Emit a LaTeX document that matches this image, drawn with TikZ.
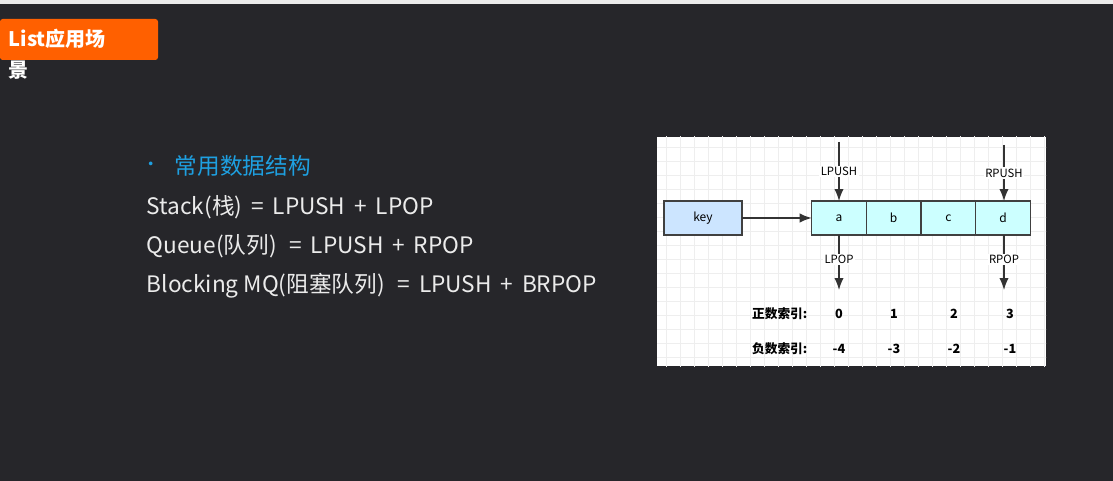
\documentclass[tikz,border=0pt]{standalone}
\usepackage{fontspec}
\setmainfont{Noto Sans CJK SC}
\newfontfamily\cjk{Noto Sans CJK SC}
\usetikzlibrary{positioning,arrows.meta}
\definecolor{bgdark}{RGB}{38,38,42}
\definecolor{tagorange}{RGB}{255,96,0}
\definecolor{keyblue}{RGB}{204,229,255}
\definecolor{cellcyan}{RGB}{204,255,255}
\definecolor{gridgrey}{RGB}{238,238,238}
\definecolor{headblue}{RGB}{30,160,225}
\tikzset{
  cell/.style={draw=black!75,line width=1.2pt,outer sep=0pt,fill=cellcyan,minimum width=41pt,minimum height=25.5pt,inner sep=0pt,font=\fontsize{9}{9}\selectfont},
  op/.style={draw=black!80,line width=1pt,-{Latex[length=9pt,width=7pt]}},
  oplabel/.style={fill=white,inner sep=1pt,font=\fontsize{8.5}{9}\selectfont},
  idx/.style={font=\bfseries\fontsize{9.5}{10}\selectfont},
  line/.style={anchor=west,text=white!92!black,font=\fontsize{17}{18}\selectfont}
}
\begin{document}
\begin{tikzpicture}[x=0.75pt,y=0.75pt,yscale=-1,xscale=1]
\useasboundingbox (0,0) rectangle (1113,481);
% background
\fill[bgdark] (0,0) rectangle (1113,481);
\fill[black!8] (0,0) rectangle (1113,4);
% title tag
\fill[tagorange,rounded corners=2pt] (0,19) rectangle (158,60);
\node[anchor=west,text=white,font=\bfseries\fontsize{15}{16}\selectfont] (tag) at (4,39) {List应用场};
\node[anchor=west,text=white,font=\bfseries\fontsize{15}{16}\selectfont] (tag2) at (4,70) {景};
% text lines
\node[text=headblue,font=\fontsize{13}{14}\selectfont] (dot) at (151,166) {•};
\node[line,text=headblue] (head) at (170,166) {常用数据结构};
\node[line] (l1) at (142,207) {Stack(栈)\, = \,LPUSH \,+\, LPOP};
\node[line] (l2) at (142,246) {Queue(队列)\,\, = \,LPUSH \,+\, RPOP};
\node[line] (l3) at (142,286) {Blocking MQ(阻塞队列)\,\, = \,LPUSH \,+\, BRPOP};
% diagram panel
\fill[white] (657,137) rectangle (1046,366);
\begin{scope}
\clip (657,137) rectangle (1046,366);
\draw[gridgrey,step=10.5pt,shift={(652,133)}] (0,0) grid (400,240);
\end{scope}
\node[draw=black!75,line width=1.2pt,outer sep=0pt,fill=keyblue,minimum width=58.5pt,minimum height=25.5pt,inner sep=0pt,font=\fontsize{9}{9}\selectfont] (key) at (703,218) {key};
\node[cell] (a) at (839,218) {a};
\node[cell,right=0pt of a] (b) {b};
\node[cell,right=0pt of b] (c) {c};
\node[cell,right=0pt of c] (d) {d};
\draw[op] (key) -- (a);
\coordinate (lpushtop) at (839,142);
\coordinate (rpushtop) at (1004,145);
\coordinate (lpopend) at (839,290);
\coordinate (rpopend) at (1004,290);
\draw[op] (lpushtop) -- node[oplabel,pos=0.5] {LPUSH} (lpushtop |- a.north);
\draw[op] (rpushtop) -- node[oplabel,pos=0.5] {RPUSH} (rpushtop |- d.north);
\draw[op] (lpopend |- a.south) -- node[oplabel,pos=0.45] {LPOP} (lpopend);
\draw[op] (rpopend |- d.south) -- node[oplabel,pos=0.45] {RPOP} (rpopend);
% indices
\node[idx,anchor=east] (pos) at (812,314) {正数索引:};
\node[idx,anchor=east] (neg) at (812,349) {负数索引:};
\foreach \x/\p/\n in {839/0/-4,894/1/-3,954/2/-2,1010/3/-1}{
  \node[idx] at (\x,314) {\p};
  \node[idx] at (\x,349) {\n};
}
\end{tikzpicture}
\end{document}
